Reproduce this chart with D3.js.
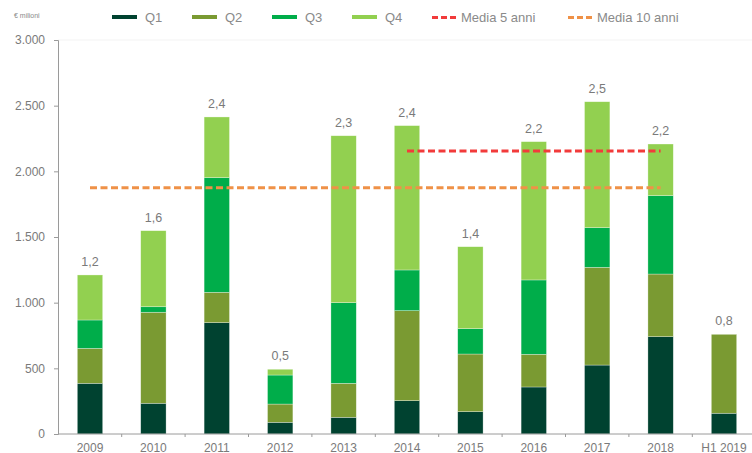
<!DOCTYPE html>
<html><head><meta charset="utf-8">
<script src="https://cdn.jsdelivr.net/npm/d3@7"></script>
<style>
html,body{margin:0;padding:0;background:#fff;}
svg{display:block;font-family:"Liberation Sans",Arial,sans-serif;}
</style></head>
<body>
<svg id="c" width="752" height="453"></svg>
<script>
const categories = ["2009","2010","2011","2012","2013","2014","2015","2016","2017","2018","H1 2019"];
const q1 = [386, 234, 848, 89, 127, 254, 170, 358, 525, 741, 158];
const q2 = [266, 693, 231, 139, 259, 685, 439, 249, 744, 477, 601];
const q3 = [216, 42, 873, 221, 614, 310, 193, 566, 302, 597, 0];
const q4 = [343, 579, 462, 44, 1271, 1099, 624, 1053, 959, 393, 0];
const totalLabels = ["1,2","1,6","2,4","0,5","2,3","2,4","1,4","2,2","2,5","2,2","0,8"];
const media5 = 2155, media5From = "2014", media5To = "2018";
const media10 = 1875, media10From = "2009", media10To = "2018";
const yTicks = [0, 500, 1000, 1500, 2000, 2500, 3000];
const seriesNames = ["Q1","Q2","Q3","Q4"];
const colors = ["#004230","#7a9a32","#00ad4a","#92d050"];
const red = "#f23b3b", orange = "#ef9147";

const svg = d3.select("#c");
const x = d3.scaleBand().domain(categories).range([58.3, 755.7]).paddingInner(0.6).paddingOuter(0.3);
const y = d3.scaleLinear().domain([0, 3000]).range([434, 40]);
const fmt = d3.format(",");
const itFmt = v => fmt(v).replace(/,/g, ".");

// faint top grid line
svg.append("line").attr("x1", 58).attr("x2", 752).attr("y1", y(3000)).attr("y2", y(3000))
  .attr("stroke", "#f3f3f3").attr("stroke-width", 1);

// y axis
const yAxis = svg.append("g").attr("transform", "translate(58,0)")
  .call(d3.axisLeft(y).tickValues(yTicks).tickSize(4).tickPadding(9).tickFormat(itFmt));
yAxis.select(".domain").attr("stroke", "#9a9a9a");
yAxis.selectAll(".tick line").attr("stroke", "#9a9a9a");
yAxis.selectAll("text").attr("fill", "#7a7a7a").attr("font-size", 12).attr("font-family", "Liberation Sans, Arial, sans-serif");

// stacked bars
const rows = categories.map((c, i) => ({cat: c, Q1: q1[i], Q2: q2[i], Q3: q3[i], Q4: q4[i]}));
const stack = d3.stack().keys(seriesNames)(rows);
svg.append("g").selectAll("g").data(stack).join("g").attr("fill", (d, i) => colors[i])
  .selectAll("rect").data(d => d).join("rect")
  .attr("x", d => x(d.data.cat)).attr("width", x.bandwidth())
  .attr("y", d => y(d[1])).attr("height", d => Math.max(0, y(d[0]) - y(d[1])))
  .attr("stroke", "#ffffff").attr("stroke-opacity", 0.5).attr("stroke-width", 0.6);

// x axis
const step = x.step();
svg.append("line").attr("x1", 58).attr("x2", 752).attr("y1", 434).attr("y2", 434).attr("stroke", "#9a9a9a");
svg.append("g").selectAll("line").data(categories.slice(1)).join("line")
  .attr("x1", d => x(d) + x.bandwidth() / 2 - step / 2).attr("x2", d => x(d) + x.bandwidth() / 2 - step / 2)
  .attr("y1", 434).attr("y2", 437).attr("stroke", "#9a9a9a");
svg.append("g").selectAll("text").data(categories).join("text")
  .attr("x", d => x(d) + x.bandwidth() / 2).attr("y", 451.5).attr("text-anchor", "middle")
  .attr("font-size", 12).attr("fill", "#7a7a7a").text(d => d);

// total labels
svg.append("g").selectAll("text").data(rows).join("text")
  .attr("x", d => x(d.cat) + x.bandwidth() / 2)
  .attr("y", d => y(d.Q1 + d.Q2 + d.Q3 + d.Q4) - 9)
  .attr("text-anchor", "middle").attr("font-size", 12.5).attr("fill", "#7a7a7a")
  .text((d, i) => totalLabels[i]);

// average lines
const cx = c => x(c) + x.bandwidth() / 2;
svg.append("line").attr("x1", cx(media10From)).attr("x2", cx(media10To))
  .attr("y1", y(media10)).attr("y2", y(media10))
  .attr("stroke", orange).attr("stroke-width", 3).attr("stroke-dasharray", "7,3.5");
svg.append("line").attr("x1", cx(media5From)).attr("x2", cx(media5To))
  .attr("y1", y(media5)).attr("y2", y(media5))
  .attr("stroke", red).attr("stroke-width", 3).attr("stroke-dasharray", "7,3.5");

// unit label
svg.append("text").attr("x", 14).attr("y", 18).attr("font-size", 7).attr("fill", "#8a8a8a").text("€ milioni");

// legend
const leg = svg.append("g");
const legX = [112, 192, 272, 352];
seriesNames.forEach((s, i) => {
  leg.append("rect").attr("x", legX[i]).attr("y", 15).attr("width", 25).attr("height", 4).attr("fill", colors[i]);
  leg.append("text").attr("x", legX[i] + 33).attr("y", 22).attr("font-size", 13).attr("fill", "#8a8a8a").text(s);
});
[[432, red, "Media 5 anni"], [568, orange, "Media 10 anni"]].forEach(([lx, col, t]) => {
  leg.append("line").attr("x1", lx).attr("x2", lx + 27).attr("y1", 17.5).attr("y2", 17.5)
    .attr("stroke", col).attr("stroke-width", 3).attr("stroke-dasharray", "6,3");
  leg.append("text").attr("x", lx + 29).attr("y", 22).attr("font-size", 13).attr("fill", "#8a8a8a").text(t);
});
</script>
</body></html>
